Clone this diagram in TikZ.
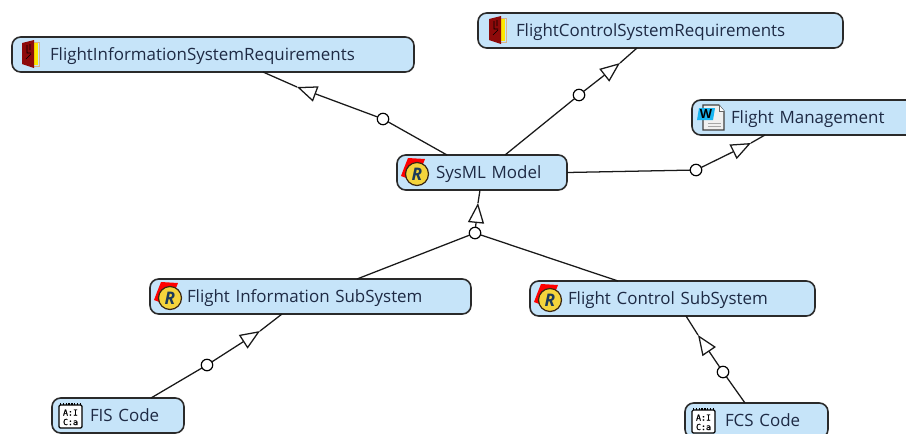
\documentclass[tikz,border=0pt]{standalone}
\usepackage{fontspec}
\setmainfont{Open Sans}
\newfontfamily\monobold{DejaVu Sans Mono}[FakeBold=1]
\usetikzlibrary{arrows.meta,calc}
\definecolor{boxblue}{HTML}{C6E4F9}
\definecolor{boxline}{HTML}{2A2A2A}
\definecolor{labelink}{HTML}{1E2A44}
\definecolor{doorred}{HTML}{8E0A0A}
\definecolor{rgold}{HTML}{F4D43C}
\definecolor{rnavy}{HTML}{1C3A5A}
\newlength{\pxu}\setlength{\pxu}{0.75pt}
\newcommand{\lowlabel}[2]{\hspace*{#1\pxu}\raisebox{-2\pxu}[\height][\depth]{#2}}
\tikzset{
  x=0.75pt,y=-0.75pt,
  boxnode/.style={draw=boxline,fill=boxblue,line width=1.2pt,rounded corners=6.5pt,
    anchor=north west,outer sep=0pt,inner xsep=0pt,inner ysep=0pt,align=left,
    text width=#1*\pxu,minimum height=26.25pt,text=labelink,font=\fontsize{12.7pt}{14pt}\selectfont},
  joint/.style={circle,draw=black,fill=white,line width=0.9pt,minimum size=8.6pt,inner sep=0pt,outer sep=0pt},
  link/.style={draw=black!90,line width=0.95pt},
  gen/.style={link,-{Triangle[open,fill=white,length=15pt,width=12pt,line width=0.95pt]}},
  pics/door/.style={code={
    \fill[yellow!95!red] (22,5) rectangle (26,28);
    \draw[fill=none,draw=brown!60!white,line width=0.7pt] (22,5) -- (27,5) -- (27,29) -- (22,29);
    \fill[doorred] (10,6) -- (22,3) -- (22,31) -- (10,27) -- cycle;
    \draw[black,line width=0.5pt] (15,8) -- (15,16) -- (19,16) (14,22) -- (19,17) (18,7) -- (18,13);
  }},
  pics/ricon/.style={code={
    \fill[red] (11,3) -- (28,4) -- (26,9) -- (15,14) -- (12,24) -- (4,21) -- (7,13) -- cycle;
    \draw[fill=rgold,draw=black!70!brown,line width=0.9pt] (20,19) circle[radius=11.5];
    \node[text=rnavy,font=\fontsize{13pt}{13pt}\selectfont\bfseries\itshape,inner sep=0pt] at (20,19) {R};
  }},
  pics/wordicon/.style={code={
    \draw[fill=black!6,draw=black!75,line width=0.8pt] (11,5) -- (27,5) -- (32,11) -- (32,30) -- (11,30) -- cycle;
    \draw[draw=black!35,line width=0.6pt] (16,23) -- (29,23) (16,26) -- (29,26);
    \draw[fill=white,draw=black!60,line width=0.5pt] (27,5) -- (27,11) -- (32,11);
    \fill[cyan!90!white] (7,8) -- (23,8) -- (21,20) -- (5,20) -- cycle;
    \node[text=black,font=\fontsize{9.5pt}{9.5pt}\selectfont\bfseries,inner sep=0pt] at (14,14) {W};
  }},
  pics/ascicon/.style={code={
    \draw[fill=white,draw=black,line width=0.9pt,rounded corners=1pt] (7,7) rectangle (30,30);
    \draw[black,line width=1.3pt,dash pattern=on 1pt off 1.1pt] (8,6) -- (30,6);
    \node[text=black,font=\fontsize{6.2pt}{6.2pt}\monobold,inner sep=0pt] at (18.5,14.5) {A:I};
    \node[text=black,font=\fontsize{6.2pt}{6.2pt}\monobold,inner sep=0pt] at (18.5,24) {C:a};
  }},
}
\begin{document}
\begin{tikzpicture}
\useasboundingbox (0,0) rectangle (906,433);
\clip (0,0) rectangle (906,433);
\fill[white] (0,0) rectangle (906,433);

\node[boxnode=402] (fisreq) at (12,37) {\lowlabel{38}{FlightInformationSystemRequirements}};
\node[boxnode=365] (fcsreq) at (478,13) {\lowlabel{38}{FlightControlSystemRequirements}};
\node[boxnode=240] (fm) at (692,100) {\lowlabel{39}{Flight Management}};
\node[boxnode=170] (sys) at (397,155) {\lowlabel{39}{SysML Model}};
\node[boxnode=321] (fisub) at (150,279) {\lowlabel{37}{Flight Information SubSystem}};
\node[boxnode=285] (fcsub) at (530,281) {\lowlabel{38}{Flight Control SubSystem}};
\node[boxnode=132] (fiscode) at (52,398) {\hspace*{38\pxu}FIS Code};
\node[boxnode=143] (fcscode) at (685,403) {\hspace*{40\pxu}FCS Code};

\pic at (fisreq.north west) {door};
\pic at ($(fcsreq.north west)+(1,0)$) {door};
\pic at (fm.north west) {wordicon};
\pic at (sys.north west) {ricon};
\pic at (fisub.north west) {ricon};
\pic at (fcsub.north west) {ricon};
\pic at (fiscode.north west) {ascicon};
\pic at (fcscode.north west) {ascicon};

\node[joint] (j1) at (383,119) {};
\node[joint] (j2) at (579,95) {};
\node[joint] (j3) at (696,170) {};
\node[joint] (j4) at (475,233) {};
\node[joint] (j5) at (207,365) {};
\node[joint] (j6) at (723,372) {};

\coordinate (t1) at (297,87);
\coordinate (t2) at (620,63);
\coordinate (t3) at (751,143);
\coordinate (t4) at (478,203);
\coordinate (t5) at (260,331);
\coordinate (t6) at (698,335);

\draw[link] ($(sys.north west)+(50,0)$) -- (j1);
\draw[gen] (j1) -- (t1);
\draw[link] (t1) -- ($(fisreq.south west)+(251,0)$);

\draw[link] ($(sys.north west)+(108,0)$) -- (j2);
\draw[gen] (j2) -- (t2);
\draw[link] (t2) -- ($(fcsreq.south west)+(159,0)$);

\draw[link] (sys.east) -- (j3);
\draw[gen] (j3) -- (t3);
\draw[link] (t3) -- ($(fm.south west)+(73,0)$);

\draw[link] ($(fisub.north west)+(207,0)$) -- (j4);
\draw[link] ($(fcsub.north west)+(88,0)$) -- (j4);
\draw[gen] (j4) -- (t4);
\draw[link] (t4) -- ($(sys.south west)+(83,0)$);

\draw[link] ($(fiscode.north west)+(99,0)$) -- (j5);
\draw[gen] (j5) -- (t5);
\draw[link] (t5) -- ($(fisub.south west)+(132,0)$);

\draw[link] ($(fcscode.north west)+(60,0)$) -- (j6);
\draw[gen] (j6) -- (t6);
\draw[link] (t6) -- ($(fcsub.south west)+(156,0)$);
\end{tikzpicture}
\end{document}
